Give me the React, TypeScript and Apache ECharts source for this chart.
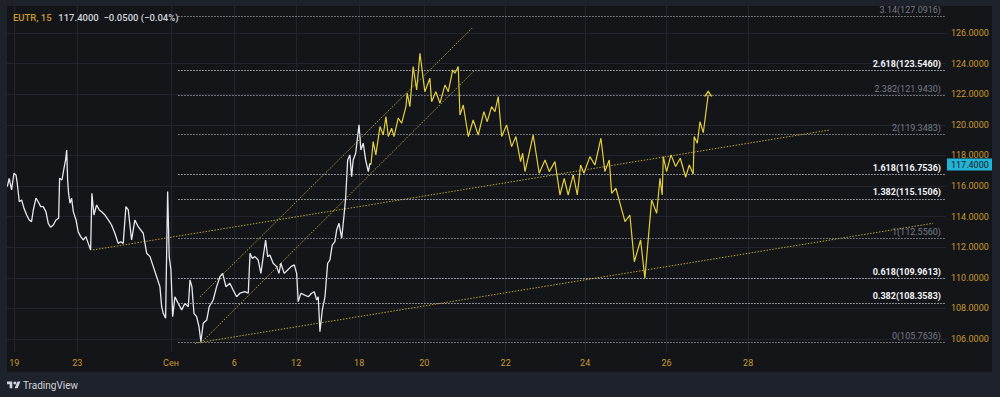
import React, { useEffect, useRef } from "react";
import * as echarts from "echarts";

// ---- data ----
const xTickValues = [0, 4, 9.95, 13.97, 17.9, 21.9, 26.03, 31.2, 36.25, 41.42, 46.6];
const xTickLabels = ["19", "23", "Сен", "6", "12", "18", "20", "22", "24", "26", "28"];
const priceTicks = [106, 108, 110, 112, 114, 116, 118, 120, 122, 124, 126];

const symbolName = "EUTR, 15";
const lastPrice = 117.4;
const changeText = "117.4000  −0.0500 (−0.04%)";

const historySeries: [number, number][] = [
  [-0.44, 115.95], [-0.32, 116.5], [-0.17, 115.74], [-0.02, 116.83], [0.11, 116.72], [0.19, 116.18],
  [0.32, 114.97], [0.47, 115.08], [0.62, 114.54], [0.79, 114.1], [0.95, 113.78], [1.1, 113.67],
  [1.21, 114.43], [1.38, 115.2], [1.52, 114.97], [1.68, 114.65], [1.84, 114.65], [2.01, 114.32],
  [2.16, 113.56], [2.31, 113.3], [2.48, 113.45], [2.65, 113.78], [2.82, 113.89], [2.88, 116.5],
  [3.03, 116.39], [3.16, 117.16], [3.26, 117.7], [3.33, 118.35], [3.39, 116.39], [3.45, 115.52],
  [3.54, 114.87], [3.64, 115.2], [3.75, 114.32], [3.92, 113.78], [4.06, 113.01], [4.22, 112.69],
  [4.38, 112.47], [4.55, 112.69], [4.7, 112.25], [4.85, 111.82], [4.93, 115.52], [5.06, 114.1],
  [5.23, 114.76], [5.4, 114.43], [5.55, 114.32], [5.76, 114.1], [5.97, 113.78], [6.18, 113.45],
  [6.39, 112.91], [6.6, 112.25], [6.76, 112.36], [6.92, 112.25], [7.09, 114.65], [7.24, 114.43],
  [7.45, 112.47], [7.66, 113.78], [7.87, 113.34], [8.19, 112.91], [8.41, 111.6], [8.62, 111.38],
  [8.83, 110.73], [9.04, 110.07], [9.25, 109.42], [9.36, 108.11], [9.46, 107.68], [9.61, 107.35],
  [9.74, 115.63], [9.84, 111.38], [9.95, 110.51], [10.06, 107.46], [10.2, 108.76], [10.41, 108.33],
  [10.63, 107.9], [10.84, 108.33], [11.05, 108.11], [11.16, 109.86], [11.28, 109.42], [11.41, 107.68],
  [11.58, 107.46], [11.73, 106.8], [11.85, 105.82], [12.0, 107.03], [12.22, 107.24], [12.38, 108.11],
  [12.63, 108.55], [12.85, 109.42], [13.06, 110.07], [13.23, 110.29], [13.44, 109.42], [13.69, 109.64],
  [13.9, 109.2], [14.12, 108.76], [14.33, 108.99], [14.65, 109.09], [14.86, 108.99], [14.97, 111.6],
  [15.11, 111.27], [15.28, 111.38], [15.49, 111.16], [15.66, 110.29], [15.81, 111.38], [15.96, 112.47],
  [16.09, 111.38], [16.23, 111.49], [16.44, 110.95], [16.66, 110.73], [16.81, 110.29], [16.93, 110.95],
  [17.14, 110.29], [17.36, 110.51], [17.57, 110.73], [17.78, 110.84], [17.93, 110.29], [18.03, 108.44],
  [18.2, 108.99], [18.41, 108.88], [18.67, 108.76], [18.88, 108.99], [19.05, 109.09], [19.2, 108.55],
  [19.3, 108.76], [19.41, 106.48], [19.56, 107.9], [19.73, 108.76], [19.9, 110.95], [20.04, 111.16],
  [20.19, 112.14], [20.36, 112.36], [20.47, 113.12], [20.62, 113.56], [20.79, 112.58], [20.93, 113.99],
  [21.04, 115.2], [21.17, 117.7], [21.31, 118.03], [21.42, 116.61], [21.52, 117.7], [21.68, 118.14],
  [21.89, 119.99], [22.01, 118.35], [22.16, 118.79], [22.31, 117.7], [22.48, 116.94], [22.58, 117.48],
  [22.65, 117.4],
];

const projectionSeries: [number, number][] = [
  [22.65, 117.4], [22.79, 118.9], [22.96, 118.03], [23.22, 119.88], [23.43, 119.33], [23.6, 120.53],
  [23.75, 119.23], [23.96, 119.77], [24.11, 119.23], [24.38, 120.43], [24.6, 120.1], [24.87, 121.18],
  [24.95, 122.06], [25.12, 121.18], [25.33, 123.8], [25.55, 122.27], [25.76, 124.67], [26.07, 122.16],
  [26.39, 123.04], [26.5, 121.51], [26.77, 122.16], [27.03, 121.41], [27.35, 122.6], [27.56, 122.16],
  [27.84, 123.58], [27.98, 123.37], [28.19, 123.8], [28.3, 120.64], [28.51, 121.29], [28.83, 119.23],
  [29.14, 120.31], [29.46, 119.33], [29.82, 120.86], [30.03, 120.2], [30.31, 121.18], [30.52, 120.86],
  [30.73, 121.84], [30.95, 119.23], [31.26, 119.99], [31.58, 118.57], [31.85, 119.23], [32.15, 117.59],
  [32.28, 118.14], [32.43, 116.94], [32.95, 119.33], [33.33, 116.83], [33.7, 117.7], [33.97, 116.94],
  [34.33, 117.59], [34.65, 115.41], [34.92, 116.5], [35.17, 115.41], [35.49, 116.72], [35.75, 115.41],
  [35.96, 117.37], [36.17, 116.83], [36.55, 117.92], [36.87, 117.37], [37.25, 119.12], [37.5, 116.94],
  [37.78, 117.7], [37.93, 115.52], [38.2, 115.85], [38.78, 113.67], [39.09, 114.1], [39.37, 111.05],
  [39.77, 112.47], [40.04, 109.97], [40.47, 115.08], [40.79, 114.22], [41.0, 116.5], [41.14, 115.41],
  [41.21, 117.92], [41.42, 116.94], [41.7, 118.03], [41.99, 117.27], [42.29, 117.81], [42.63, 116.57],
  [42.86, 117.37], [43.11, 116.78], [43.17, 119.23], [43.37, 118.79], [43.54, 120.2], [43.75, 119.48],
  [44.06, 121.95],
];

const trendLong: [number, number][] = [[5.0, 111.82], [51.79, 119.66]];
const trendLow: [number, number][] = [[11.47, 105.72], [58.33, 113.56]];
const channelUpper: [number, number][] = [[11.79, 108.75], [29.12, 126.36]];
const channelLower: [number, number][] = [[11.83, 105.72], [29.19, 123.52]];

const fibRatios = ["3.14", "2.618", "2.382", "2", "1.618", "1.382", "1", "0.618", "0.382", "0"];
const fibPrices = [127.0916, 123.546, 121.943, 119.3483, 116.7536, 115.1506, 112.556, 109.9613, 108.3583, 105.7636];
const fibBold = [false, true, false, false, true, true, false, true, true, false];
const fibStartT = 10.41;

const xMin = -0.46;
const xMax = 59.16;
const yMin = 105.15;
const yMax = 127.76;

// ---- styles ----
const FONT = "Roboto, 'Noto Sans', sans-serif";
const PANEL = "#131519";
const FRAME = "#1e222b";
const GOLD = "#c99a2e";
const LIGHT = "#d1d4dc";
const GREY = "#787b86";
const GRID = "#22252d";
const YELLOW = "#e3cf3c";
const TREND = "#b8a733";

export default function App() {
  const ref = useRef<HTMLDivElement>(null);

  useEffect(() => {
    if (!ref.current) return;
    echarts.graphic.registerShape(
      "tvlogo",
      echarts.graphic.extendPath("M14 22H7V11H0V4h14v18z M28 22h-8l7.5-18h8L28 22z", {})
    );
    const chart = echarts.init(ref.current, null, { renderer: "svg" });

    const fibMarks = fibPrices.map((p, i) => [
      {
        coord: [fibStartT, p],
        lineStyle: {
          color: fibBold[i] ? "#b2b5be" : "#8a8d96",
          type: [1.5, 1.5],
          width: 1,
        },
        label: {
          show: true,
          position: "insideEndTop",
          distance: [5, 2],
          formatter: `${fibRatios[i]}(${p.toFixed(4)})`,
          color: fibBold[i] ? "#f0f2f5" : GREY,
          fontWeight: fibBold[i] ? "bold" : "normal",
          fontSize: 9,
          fontFamily: FONT,
        },
      },
      { coord: [xMax, p] },
    ]);

    const trendSeries = [trendLong, trendLow, channelUpper, channelLower].map((d) => ({
      type: "line",
      data: d,
      showSymbol: false,
      silent: true,
      lineStyle: { color: TREND, width: 1, type: [1.5, 1.5] },
      z: 3,
    }));

    const lastIdx = projectionSeries.length - 1;
    const projData = projectionSeries.map((d, i) =>
      i === lastIdx
        ? {
            value: d,
            symbol: "path://M0,6 L4,0 L8,6",
            symbolSize: [7, 5],
            symbolOffset: [0, -1],
            itemStyle: { color: "transparent", borderColor: YELLOW, borderWidth: 1.2 },
          }
        : d
    );

    chart.setOption({
      animation: false,
      backgroundColor: PANEL,
      grid: { left: 7, right: 54, top: 6, bottom: 45, containLabel: false, outerBoundsMode: "none" },
      xAxis: {
        type: "value",
        min: xMin,
        max: xMax,
        axisLine: { show: false },
        axisTick: { show: false, customValues: xTickValues },
        axisLabel: {
          customValues: xTickValues,
          formatter: (v: number) => {
            const i = xTickValues.findIndex((t) => Math.abs(t - v) < 1e-6);
            return i >= 0 ? xTickLabels[i] : "";
          },
          color: GOLD,
          fontSize: 9,
          fontFamily: FONT,
          margin: 6,
        },
        splitLine: { show: true, lineStyle: { color: GRID, width: 1 } },
      },
      yAxis: {
        type: "value",
        position: "right",
        min: yMin,
        max: yMax,
        axisLine: { show: false },
        axisTick: { show: false, customValues: priceTicks },
        axisLabel: {
          customValues: priceTicks,
          formatter: (v: number) => v.toFixed(4),
          color: GOLD,
          fontSize: 9,
          fontFamily: FONT,
          margin: 5,
        },
        splitLine: { show: true, lineStyle: { color: GRID, width: 1 } },
      },
      series: [
        {
          type: "line",
          data: historySeries,
          showSymbol: false,
          silent: true,
          lineStyle: { color: "#e6e8ee", width: 1.3 },
          z: 4,
          markLine: {
            silent: true,
            symbol: ["none", "none"],
            animation: false,
            data: [
              ...fibMarks,
              {
                yAxis: lastPrice,
                lineStyle: { opacity: 0, width: 0 },
                label: {
                  show: true,
                  position: "end",
                  distance: 1,
                  formatter: lastPrice.toFixed(4),
                  backgroundColor: "#22b4d6",
                  color: "#131722",
                  padding: [2, 4, 1, 4],
                  fontSize: 9,
                  fontFamily: FONT,
                  opacity: 1,
                },
              },
            ],
          },
        },
        {
          type: "line",
          data: projData,
          symbol: "none",
          showSymbol: true,
          silent: true,
          lineStyle: { color: YELLOW, width: 1.2 },
          z: 5,
        },
        ...trendSeries,
      ],
      graphic: [
        { type: "rect", shape: { x: 0, y: 0, width: 1000, height: 6 }, style: { fill: FRAME }, z: 100 },
        { type: "rect", shape: { x: 0, y: 0, width: 7, height: 397 }, style: { fill: FRAME }, z: 100 },
        { type: "rect", shape: { x: 992, y: 0, width: 8, height: 397 }, style: { fill: FRAME }, z: 100 },
        { type: "rect", shape: { x: 0, y: 372, width: 1000, height: 25 }, style: { fill: FRAME }, z: 100 },
        {
          type: "text",
          x: 13,
          y: 17,
          z: 101,
          style: {
            text: `{a|${symbolName}}  {b|${changeText}}`,
            verticalAlign: "middle",
            rich: {
              a: { fill: GOLD, fontSize: 9.5, fontFamily: FONT, fontWeight: 500 },
              b: { fill: LIGHT, fontSize: 9.5, fontFamily: FONT, fontWeight: 500 },
            },
          },
        },
        {
          type: "tvlogo",
          x: 7,
          y: 380,
          scaleX: 0.38,
          scaleY: 0.38,
          z: 101,
          style: { fill: LIGHT },
        },
        { type: "circle", shape: { cx: 14.9, cy: 383, r: 1.5 }, style: { fill: LIGHT }, z: 101 },
        {
          type: "text",
          x: 23,
          y: 385,
          z: 101,
          style: { text: "TradingView", fill: LIGHT, fontSize: 10, fontFamily: FONT, verticalAlign: "middle" },
        },
      ],
    });

    return () => chart.dispose();
  }, []);

  return (
    <div
      ref={ref}
      style={{ position: "fixed", left: 0, top: 0, width: 1000, height: 397, background: PANEL }}
    />
  );
}
